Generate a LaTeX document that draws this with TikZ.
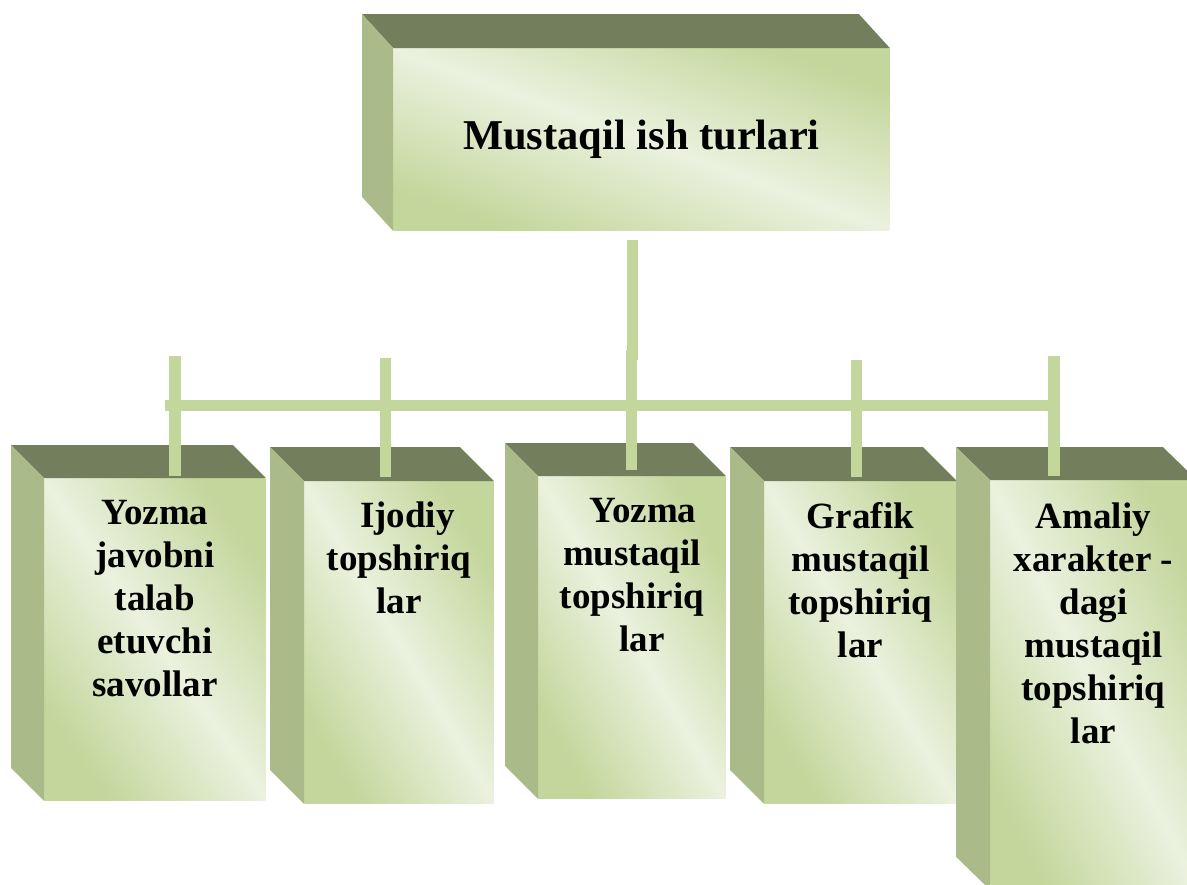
\documentclass[tikz,border=0pt]{standalone}
\usepackage{fontspec}
\setmainfont{Liberation Serif}
\usetikzlibrary{positioning}
\definecolor{topface}{RGB}{115,126,92}
\definecolor{sideface}{RGB}{170,187,137}
\definecolor{frontdark}{RGB}{195,214,155}
\definecolor{frontlight}{RGB}{235,241,222}
\definecolor{barcol}{RGB}{195,214,155}
\begin{document}
\begin{tikzpicture}[x=0.5pt, y=-0.5pt, line join=round,
	front/.style={anchor=north west, inner sep=0pt, left color=frontdark, right color=frontdark, middle color=frontlight, shading angle=#1},
	lbl/.style={align=center, inner sep=0pt, font=\fontsize{18.5}{21.5}\selectfont\bfseries},
	bar/.style={draw=barcol, line width=5.75pt}]
	\clip (0,0) rectangle (1187,884);
	% top box
	\node[front=-20, minimum width=248pt, minimum height=91pt, font=\fontsize{21.25}{25}\selectfont\bfseries] (mt) at (393,48) {Mustaqil ish turlari};
	\fill[topface] (mt.north west) -- +(-31,-34) -- ([shift={(-31,-34)}]mt.north east) -- (mt.north east) -- cycle;
	\fill[sideface] (mt.north west) -- +(-31,-34) -- ([shift={(-31,-34)}]mt.south west) -- (mt.south west) -- cycle;
	% lower boxes
	\node[front=-55, minimum width=110.5pt, minimum height=161pt] (b1) at (44,478) {};
	\fill[topface] (b1.north west) -- +(-33,-33) -- ([shift={(-33,-33)}]b1.north east) -- (b1.north east) -- cycle;
	\fill[sideface] (b1.north west) -- +(-33,-33) -- ([shift={(-33,-33)}]b1.south west) -- (b1.south west) -- cycle;
	\node[front=-59, minimum width=94.5pt, minimum height=161pt] (b2) at (304,481) {};
	\fill[topface] (b2.north west) -- +(-34,-34) -- ([shift={(-34,-34)}]b2.north east) -- (b2.north east) -- cycle;
	\fill[sideface] (b2.north west) -- +(-34,-34) -- ([shift={(-34,-34)}]b2.south west) -- (b2.south west) -- cycle;
	\node[front=-60, minimum width=93.5pt, minimum height=161pt] (b3) at (538,476) {};
	\fill[topface] (b3.north west) -- +(-33,-33) -- ([shift={(-33,-33)}]b3.north east) -- (b3.north east) -- cycle;
	\fill[sideface] (b3.north west) -- +(-33,-33) -- ([shift={(-33,-33)}]b3.south west) -- (b3.south west) -- cycle;
	\node[front=-59, minimum width=96pt, minimum height=161pt] (b4) at (764,481) {};
	\fill[topface] (b4.north west) -- +(-34,-34) -- ([shift={(-34,-34)}]b4.north east) -- (b4.north east) -- cycle;
	\fill[sideface] (b4.north west) -- +(-34,-34) -- ([shift={(-34,-34)}]b4.south west) -- (b4.south west) -- cycle;
	\node[front=-63, minimum width=103pt, minimum height=204.5pt] (b5) at (990,480) {};
	\fill[topface] (b5.north west) -- +(-34,-33) -- ([shift={(-34,-33)}]b5.north east) -- (b5.north east) -- cycle;
	\fill[sideface] (b5.north west) -- +(-34,-33) -- ([shift={(-34,-33)}]b5.south west) -- (b5.south west) -- cycle;
	% texts
	\node[lbl, below=11pt of b1.north] (t1) {Yozma\\javobni\\talab\\etuvchi\\savollar};
	\node[lbl, below=10pt of b2.north] (t2) {\hspace*{8.5pt}Ijodiy\\topshiriq\\lar};
	\node[lbl, below=11pt of b3.north] (t3) {\hspace*{11pt}Yozma\\mustaqil\\topshiriq\\\hspace*{10pt}lar};
	\node[lbl, below=10.5pt of b4.north] (t4) {Grafik\\mustaqil\\topshiriq\\lar};
	\node[lbl, below=11pt of b5.north] (t5) {Amaliy\\xarakter -\\dagi\\mustaqil\\topshiriq\\lar};
	% connectors
	\coordinate (m1) at (632.5,240);
	\coordinate (m2) at (632.5,360);
	\coordinate (bl) at (165,405.5);
	\coordinate (br) at (1060,405.5);
	\coordinate (d1) at (175,356);
	\coordinate (d2) at (385.5,358);
	\coordinate (d3) at (631.5,350);
	\coordinate (d4) at (856.5,360);
	\coordinate (d5) at (1054,356);
	\draw[bar] (m1) -- (m2);
	\draw[bar] (bl) -- (br);
	\draw[bar, shorten >=1pt] (d1) -- (d1 |- b1.north);
	\draw[bar, shorten >=2pt] (d2) -- (d2 |- b2.north);
	\draw[bar, shorten >=3pt] (d3) -- (d3 |- b3.north);
	\draw[bar, shorten >=2pt] (d4) -- (d4 |- b4.north);
	\draw[bar, shorten >=2pt] (d5) -- (d5 |- b5.north);
\end{tikzpicture}
\end{document}
